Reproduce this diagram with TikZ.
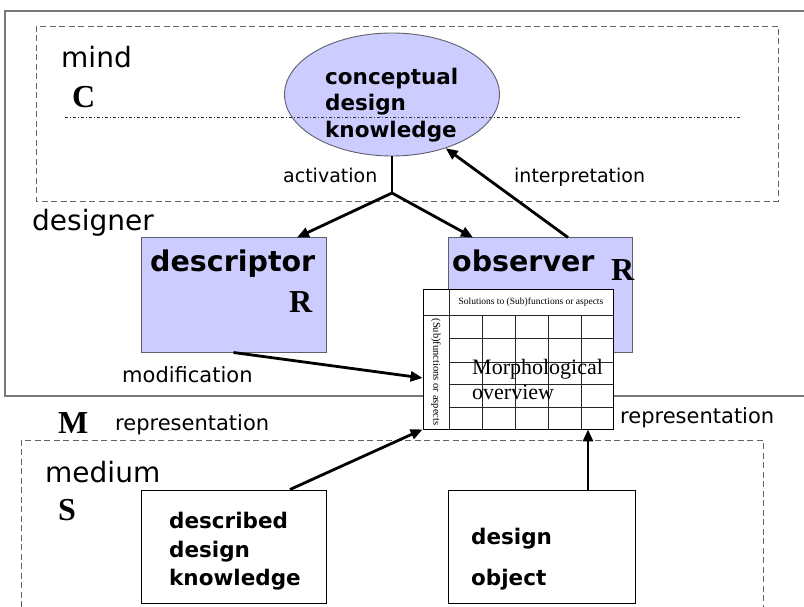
\documentclass[tikz,border=0pt]{standalone}
\usepackage{fontspec}
\setmainfont{Liberation Serif}
\newfontfamily\dvs{DejaVu Sans}
\usetikzlibrary{arrows.meta,calc,shapes.geometric}
\definecolor{lavender}{RGB}{204,204,255}
\definecolor{edgegray}{RGB}{95,95,110}
\definecolor{framegray}{RGB}{120,120,120}
\definecolor{dashgray}{RGB}{100,100,100}
\begin{document}
\begin{tikzpicture}[x=1pt,y=-1pt,
  lav/.style={fill=lavender,draw=edgegray,line width=1pt,inner sep=0},
  wbox/.style={fill=white,draw=black,line width=1pt,inner sep=0},
  dbox/.style={draw=dashgray,line width=0.9pt,dash pattern=on 6pt off 3.5pt},
  flow/.style={line width=2.8pt,-{Triangle[length=12pt,width=10pt]}},
  lbl/.style={inner sep=0,anchor=base west,font=\dvs\fontsize{19}{19}\selectfont},
  biglbl/.style={inner sep=0,anchor=base west,font=\dvs\fontsize{28}{28}\selectfont},
  boxtxt/.style={inner sep=0,anchor=base west,font=\dvs\bfseries\fontsize{21.5}{21.5}\selectfont},
  letter/.style={inner sep=0,anchor=base west,font=\bfseries\fontsize{32}{32}\selectfont},
  grid/.style={draw=black!85,line width=0.8pt}]
\useasboundingbox (0,0) rectangle (804,607);

% designer frame (open to the right)
\draw[framegray,line width=1.5pt] (804,11) -- (5,11) -- (5,396) -- (804,396);

% mind region
\draw[dbox] (36,26) rectangle (778,201);
\node[biglbl] (mind) at (61,68) {mind};
\node[letter] (C) at (72,108) {C};

% conceptual design knowledge
\node[ellipse,fill=lavender,draw=edgegray,line width=0.9pt,minimum width=215pt,minimum height=123pt,inner sep=0] (ell) at (392,94.5) {};
\draw[black!80,line width=0.6pt,dash pattern=on 3pt off 2pt on 1pt off 2pt] (65,117) -- (742,117);
\node[boxtxt] (cdk1) at (325,85) {conceptual};
\node[boxtxt] (cdk2) at (325,111) {design};
\node[boxtxt] (cdk3) at (325,138) {knowledge};

\node[lbl] (act) at (283,183) {activation};
\node[lbl] (intp) at (514,183) {interpretation};

% designer
\node[biglbl] (designer) at (32,230) {designer};

\node[lav,minimum width=185pt,minimum height=114pt] (desc) at (233.5,295) {};
\node[inner sep=0,anchor=base west,font=\dvs\bfseries\fontsize{28.5}{28.5}\selectfont] (desct) at (150,272) {descriptor};
\node[letter] (descR) at (289,312) {R};

\node[lav,minimum width=184pt,minimum height=114pt] (obs) at (540,295) {};
\node[inner sep=0,anchor=base west,font=\dvs\bfseries\fontsize{28.5}{28.5}\selectfont] (obst) at (452,272) {observer};
\node[letter] (obsR) at (611,280) {R};

% morphological overview table
\node[wbox,line width=0.8pt,minimum width=190pt,minimum height=140pt] (tbl) at (518,359) {};
\draw[grid] (423,315) -- (613,315);
\draw[grid] (449,289) -- (449,429);
\foreach \xc in {482,515,548,581} \draw[grid] (\xc,315) -- (\xc,429);
\foreach \yr in {338,362,384,407} \draw[grid] (449,\yr) -- (613,\yr);
\node[inner sep=0,font=\fontsize{9.5}{9.5}\selectfont] (thead) at (531,302) {Solutions to (Sub)functions or aspects};
\node[inner sep=0,rotate=-90,font=\fontsize{10.5}{10.5}\selectfont] (tside) at (436,372) {(Sub)functions or aspects};
\node[inner sep=0,anchor=base west,font=\fontsize{22}{22}\selectfont] (morph1) at (472,374) {Morphological};
\node[inner sep=0,anchor=base west,font=\fontsize{22}{22}\selectfont] (morph2) at (472,399) {overview};

% labels between regions
\node[lbl,font=\dvs\fontsize{21}{21}\selectfont] (modif) at (122,382) {modification};
\node[letter] (M) at (58,433) {M};
\node[lbl,font=\dvs\fontsize{21}{21}\selectfont] (repl) at (115,430) {representation};
\node[lbl,font=\dvs\fontsize{21}{21}\selectfont] (repr) at (620,423) {representation};

% medium region (open at the bottom)
\draw[dbox] (21,607) -- (21,440) -- (763,440) -- (763,607);
\node[biglbl] (medium) at (45,482) {medium};
\node[letter] (S) at (58,520) {S};

\node[wbox,minimum width=185pt,minimum height=113pt] (ddk) at (233.5,546.5) {};
\node[boxtxt] (ddk1) at (169,528) {described};
\node[boxtxt] (ddk2) at (169,557) {design};
\node[boxtxt] (ddk3) at (169,585) {knowledge};

\node[wbox,minimum width=187pt,minimum height=113pt] (dob) at (541.5,546.5) {};
\node[boxtxt] (dob1) at (471,544) {design};
\node[boxtxt] (dob2) at (471,585) {object};

% connectors
\coordinate (br) at (392,193);
\draw[line width=2.8pt] (ell.south) -- (br);
\draw[flow] (br) -- ([xshift=63.5pt]desc.north);
\draw[flow] (br) -- ([xshift=-67pt]obs.north);
\draw[flow] ([xshift=28pt]obs.north) -- (ell.-45);
\draw[flow] (desc.south) -- ([yshift=-19pt]tbl.west);
\draw[flow] ([xshift=56.5pt]ddk.north) -- (tbl.south west);
\coordinate (dobtop) at ([xshift=46.5pt]dob.north);
\draw[flow] (dobtop) -- (dobtop |- tbl.south);
\end{tikzpicture}
\end{document}
